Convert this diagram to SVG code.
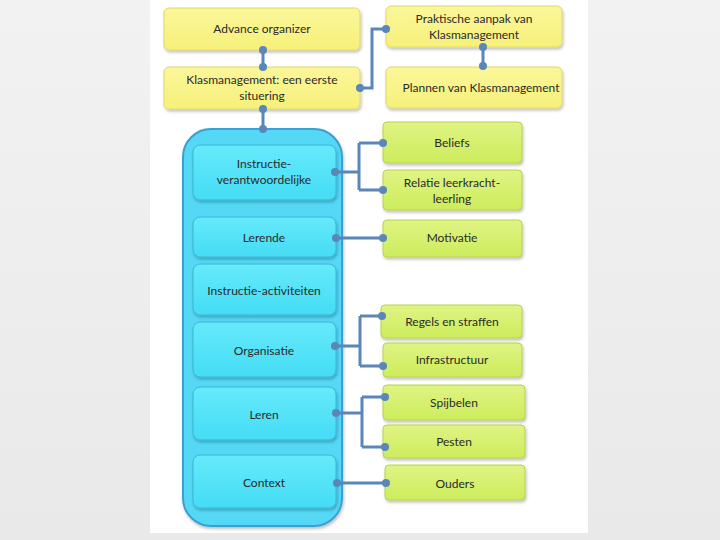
<svg xmlns="http://www.w3.org/2000/svg" width="720" height="540" viewBox="0 0 720 540">
<defs>
<linearGradient id="bg" x1="0" y1="0" x2="0" y2="1"><stop offset="0" stop-color="#f2f2f2"/><stop offset="1" stop-color="#e9e9e9"/></linearGradient>
<linearGradient id="yel" x1="0" y1="0" x2="0" y2="1"><stop offset="0" stop-color="#fbf79a"/><stop offset="1" stop-color="#f6f07a"/></linearGradient>
<linearGradient id="grn" x1="0" y1="0" x2="0" y2="1"><stop offset="0" stop-color="#dff483"/><stop offset="1" stop-color="#cdec5c"/></linearGradient>
<linearGradient id="cyn" x1="0" y1="0" x2="0" y2="1"><stop offset="0" stop-color="#66eafb"/><stop offset="1" stop-color="#44dcf4"/></linearGradient>
<filter id="sh" x="-10%" y="-10%" width="125%" height="135%"><feDropShadow dx="1" dy="2" stdDeviation="1.5" flood-color="#000" flood-opacity="0.25"/></filter>
<style>
.y{fill:url(#yel);stroke:#e0d86a;stroke-width:1;filter:url(#sh)}
.g{fill:url(#grn);stroke:#b9d24e;stroke-width:1;filter:url(#sh)}
.c{fill:url(#cyn);stroke:#3ab6d4;stroke-width:1;filter:url(#sh)}
.big{fill:#54d8f6;stroke:#3b9fd2;stroke-width:2;filter:url(#sh)}
text{font-family:Lato,"Liberation Sans",sans-serif;font-size:12px;fill:#2a2a2a;text-anchor:middle}
.ln{fill:none;stroke:#5a86b9;stroke-width:3}
.dt{fill:#5a86b9}
</style>
</defs>
<rect x="0" y="0" width="720" height="540" fill="url(#bg)"/>
<rect x="150" y="0" width="438" height="533" fill="#ffffff"/>

<g id="container"><rect class="big" x="183" y="129" width="159" height="397" rx="28"/></g>

<g id="advance"><rect class="y" x="164" y="8" width="196" height="42" rx="5"/><text x="262" y="33">Advance organizer</text></g>
<g id="klas"><rect class="y" x="164" y="67" width="196" height="42" rx="5"/><text x="262" y="84">Klasmanagement: een eerste</text><text x="262" y="100">situering</text></g>
<g id="praktisch"><rect class="y" x="386" y="6" width="176" height="41" rx="5"/><text x="474" y="23">Praktische aanpak van</text><text x="474" y="39">Klasmanagement</text></g>
<g id="plannen"><rect class="y" x="386" y="67" width="176" height="41" rx="5"/><text x="481" y="92">Plannen van Klasmanagement</text></g>

<g id="instr"><rect class="c" x="193" y="145" width="143" height="55" rx="7"/><text x="264" y="168">Instructie-</text><text x="264" y="184">verantwoordelijke</text></g>
<g id="lerende"><rect class="c" x="193" y="217" width="143" height="40" rx="7"/><text x="264" y="242">Lerende</text></g>
<g id="instract"><rect class="c" x="193" y="264" width="143" height="51" rx="7"/><text x="264" y="295">Instructie-activiteiten</text></g>
<g id="organisatie"><rect class="c" x="193" y="322" width="143" height="55" rx="7"/><text x="264" y="355">Organisatie</text></g>
<g id="leren"><rect class="c" x="193" y="387" width="143" height="53" rx="7"/><text x="264" y="419">Leren</text></g>
<g id="context"><rect class="c" x="193" y="455" width="143" height="53" rx="7"/><text x="264" y="487">Context</text></g>

<g id="beliefs"><rect class="g" x="383" y="122" width="139" height="41" rx="4"/><text x="452" y="147">Beliefs</text></g>
<g id="relatie"><rect class="g" x="383" y="170" width="139" height="40" rx="4"/><text x="452" y="187">Relatie leerkracht-</text><text x="452" y="203">leerling</text></g>
<g id="motivatie"><rect class="g" x="383" y="220" width="139" height="37" rx="4"/><text x="452" y="242">Motivatie</text></g>
<g id="regels"><rect class="g" x="381" y="305" width="141" height="33" rx="4"/><text x="452" y="326">Regels en straffen</text></g>
<g id="infra"><rect class="g" x="383" y="343" width="139" height="34" rx="4"/><text x="452" y="364">Infrastructuur</text></g>
<g id="spijbelen"><rect class="g" x="383" y="385" width="142" height="35" rx="4"/><text x="454" y="407">Spijbelen</text></g>
<g id="pesten"><rect class="g" x="383" y="425" width="142" height="33" rx="4"/><text x="454" y="446">Pesten</text></g>
<g id="ouders"><rect class="g" x="385" y="465" width="140" height="35" rx="4"/><text x="455" y="488">Ouders</text></g>

<g id="connectors">
<path class="ln" d="M263,50 V67"/><circle class="dt" cx="263" cy="50" r="4"/><circle class="dt" cx="263" cy="67" r="4"/>
<path class="ln" d="M360,88 H372 V29 H386"/><circle class="dt" cx="360" cy="88" r="4"/><circle class="dt" cx="386" cy="29" r="4"/>
<path class="ln" d="M483,47 V66"/><circle class="dt" cx="483" cy="47" r="4"/><circle class="dt" cx="483" cy="66" r="4"/>
<path class="ln" d="M263,109 V129"/><circle class="dt" cx="263" cy="109" r="4"/><circle class="dt" cx="263" cy="129" r="4"/>
<path class="ln" d="M335,172 H359 M359,143 V190 M359,143 H383 M359,190 H383"/><circle class="dt" cx="335" cy="172" r="4"/><circle class="dt" cx="383" cy="143" r="4"/><circle class="dt" cx="383" cy="190" r="4"/>
<path class="ln" d="M336,238 H383"/><circle class="dt" cx="336" cy="238" r="4"/><circle class="dt" cx="383" cy="238" r="4"/>
<path class="ln" d="M335,346 H360 M360,316 V366 M360,316 H382 M360,366 H383"/><circle class="dt" cx="335" cy="346" r="4"/><circle class="dt" cx="382" cy="316" r="4"/><circle class="dt" cx="383" cy="366" r="4"/>
<path class="ln" d="M336,413 H362 M362,397 V447 M362,397 H385 M362,447 H385"/><circle class="dt" cx="336" cy="413" r="4"/><circle class="dt" cx="385" cy="397" r="4"/><circle class="dt" cx="385" cy="447" r="4"/>
<path class="ln" d="M337,483 H386"/><circle class="dt" cx="337" cy="483" r="4"/><circle class="dt" cx="386" cy="483" r="4"/>
</g>
</svg>
